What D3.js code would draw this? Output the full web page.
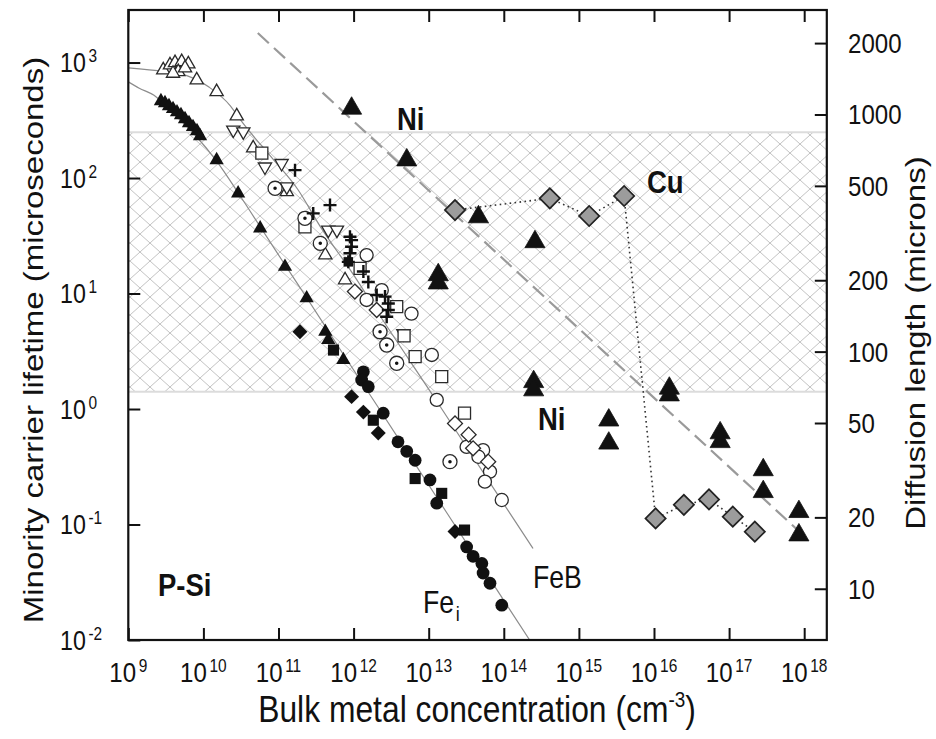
<!DOCTYPE html>
<html><head><meta charset="utf-8">
<script src="https://cdn.jsdelivr.net/npm/d3@7"></script>
<style>
body{margin:0;background:#fff;}
text{font-family:"Liberation Sans",Arial,Helvetica,sans-serif;fill:#111;}
</style></head><body>
<svg id="c" width="936" height="739"></svg>
<script>
// ---------- axes / ticks ----------
const xTickExps = [9,10,11,12,13,14,15,16,17,18];
const yTickExps = [-2,-1,0,1,2,3];
const rightTicks = [10,20,50,100,200,500,1000,2000];
const xDomain = [1e9, 2e18];
const yDomain = [0.01, 2850];
const rightDomain = [6.08, 2758];
const band = [1.41, 249];           // hatched lifetime band (microseconds)

// ---------- Ni (large filled triangles) ----------
const niTri = [[9.4e11,401],[5.1e12,143],[1.34e13,14.5],[1.34e13,12.3],[4.6e13,46],[2.6e14,28],
  [2.5e14,1.72],[2.5e14,1.46],[2.5e15,0.80],[2.5e15,0.505],[1.6e16,1.51],[1.6e16,1.32],
  [7.6e16,0.62],[7.6e16,0.52],[2.85e17,0.297],[2.85e17,0.192],[8.5e17,0.129],[8.5e17,0.081]];
// ---------- Cu (gray diamonds, dotted) ----------
const cuDia = [[2.24e13,52.8],[4.1e14,66.7],[1.37e15,46.9],[4.0e15,69.9],[1.05e16,0.113],
  [2.5e16,0.148],[5.4e16,0.165],[1.12e17,0.117],[2.2e17,0.0867]];
// ---------- FeB (open symbols) ----------
const febTriUp = [[2.92e9,861],[3.59e9,951],[4.19e9,996],[5.14e9,1016],[6.3e9,970],[4.63e9,832],
  [3.94e9,805],[5.69e9,896],[8.15e9,705],[1.5e10,558],[2.78e10,344],[4.6e10,182],[1.29e11,76],
  [4.2e11,21.5],[7.7e11,13.1]];
const febTriDown = [[2.5e10,261],[3.4e10,252],[6.6e10,125],[1.1e11,134],[1.29e11,84],[4.6e11,35.5],
  [6.0e11,35.5],[4.6e12,4.5]];
const febSquare = [[6.0e10,164],[2.25e11,37.8],[1.22e12,16.5],[3.75e12,7.7],[4.7e12,4.3],[6.6e12,2.84],
  [1.49e13,1.91],[3.0e13,0.92]];
const febCircle = [[1.49e12,21.5],[2.37e12,10.7],[1.49e12,8.8],[5.9e12,6.7],[1.1e13,2.94],[1.28e13,1.20],
  [3.2e13,0.47],[5.3e13,0.44],[4.6e13,0.386],[6.55e13,0.287],[5.6e13,0.235],[9.4e13,0.163]];
const febDiamond = [[1.04e12,10.4],[2.03e12,7.2],[2.24e13,0.75],[3.4e13,0.60],[3.9e13,0.457],[6.2e13,0.35]];
const febDotCircle = [[9.0e10,81.5],[2.25e11,44.8],[3.6e11,27.2],[2.25e12,4.67],[2.76e12,3.58],
  [3.75e12,2.49],[1.92e13,0.35]];
const febPlus = [[1.66e11,117],[4.85e11,58.3],[2.9e11,49.4],[8.95e11,31.0],[9.4e11,29.0],[9.4e11,25.4],
  [8.95e11,22.3],[8.5e11,18.8],[1.35e12,15.5],[1.57e12,12.6],[2.03e12,9.7],[2.62e12,9.4],[2.9e12,8.2],
  [2.9e12,7.2],[2.76e12,6.3]];
const febSolid = [[8.5e11,18.8]];
// ---------- Fe_i (filled symbols) ----------
const feiTri = [[2.72e9,464],[3.08e9,446],[3.48e9,420],[3.94e9,396],[4.45e9,372],[5.03e9,351],[5.69e9,324],
  [6.43e9,299],[7.27e9,277],[8.22e9,255],[9.02e9,231],[1.5e10,143],[2.9e10,73.8],[5.7e10,36.7],
  [1.22e11,17.1],[2.37e11,9.1],[4.2e11,4.67],[4.6e11,3.96],[7.3e11,2.66]];
const feiDiamond = [[1.93e11,4.67],[9.4e11,1.28],[1.35e12,0.94],[2.13e12,0.62],[2.24e13,0.087]];
const feiSquare = [[5.4e11,3.24],[1.83e12,0.80],[6.6e12,0.25],[1.49e13,0.186],[3.0e13,0.0895]];
const feiCircle = [[1.35e12,2.10],[1.28e12,1.78],[1.57e12,1.56],[2.48e12,0.92],[3.9e12,0.52],[5.1e12,0.43],
  [6.6e12,0.36],[1.04e13,0.243],[1.28e13,0.153],[3.2e13,0.064],[3.9e13,0.053],[5.1e13,0.046],
  [5.3e13,0.038],[6.55e13,0.031],[9.4e13,0.020]];
// ---------- curves ----------
const febCurve = [[1e9,900],[3e9,835],[6e9,770],[1.2e10,610],[2.3e10,420],[3.1e10,320],[8.5e10,145],
  [1.8e11,80],[3.6e11,38],[1e12,14.5],[2e12,7.2],[1.3e13,1.15],[9.4e13,0.16],[2.45e14,0.062]];
const feiCurve = [[1e9,680],[1.4e9,600],[2.2e9,520],[4e9,360],[8e9,230],[1.5e10,140],[3e10,72],[6e10,36],
  [1.2e11,18],[2.4e11,9.1],[7e11,3.1],[2e12,1.1],[1e13,0.22],[5e13,0.044],[2.3e14,0.0096]];
const niCuFit = [[5.3e10,1800],[1.03e18,0.078]];

// ---------- drawing ----------
const svg = d3.select("#c");
const L=128.3, R=826.8, T=10, B=640, SX=0.86;
const x = d3.scaleLog().domain(xDomain).range([L,R]);
const y = d3.scaleLog().domain(yDomain).range([B,T]);
const yR = d3.scaleLog().domain(rightDomain).range([B,T]);

const defs = svg.append("defs");
const pat = defs.append("pattern").attr("id","hatch").attr("patternUnits","userSpaceOnUse")
  .attr("width",20).attr("height",18);
pat.append("path").attr("d","M0,0L20,18M20,0L0,18").attr("stroke","#c2c2c2").attr("stroke-width",1).attr("fill","none");
defs.append("clipPath").attr("id","plot").append("rect").attr("x",L).attr("y",T).attr("width",R-L).attr("height",B-T);

svg.append("rect").attr("x",L).attr("width",R-L).attr("y",y(band[1])).attr("height",y(band[0])-y(band[1]))
  .attr("fill","url(#hatch)");
band.forEach(v=>svg.append("line").attr("x1",L).attr("x2",R).attr("y1",y(v)).attr("y2",y(v))
  .attr("stroke","#dcdcdc").attr("stroke-width",2));

const line = d3.line().x(d=>x(d[0])).y(d=>y(d[1])).curve(d3.curveMonotoneX);
const gc = svg.append("g").attr("clip-path","url(#plot)");
gc.append("path").attr("d",line(febCurve)).attr("fill","none").attr("stroke","#8c8c8c").attr("stroke-width",1.2);
gc.append("path").attr("d",line(feiCurve)).attr("fill","none").attr("stroke","#8c8c8c").attr("stroke-width",1.2);
gc.append("path").attr("d",d3.line().x(d=>x(d[0])).y(d=>y(d[1]))(niCuFit)).attr("fill","none")
  .attr("stroke","#9a9a9a").attr("stroke-width",2.2).attr("stroke-dasharray","15,7");
gc.append("path").attr("d",d3.line().x(d=>x(d[0])).y(d=>y(d[1]))(cuDia)).attr("fill","none")
  .attr("stroke","#333").attr("stroke-width",1.6).attr("stroke-dasharray","1.6,3.4");

function sym(data,type,size,o){
  svg.append("g").selectAll("path").data(data).join("path")
    .attr("d",d3.symbol().type(type).size(size))
    .attr("transform",d=>`translate(${x(d[0])},${y(d[1])}) rotate(${o.rot||0})`)
    .attr("fill",o.fill).attr("stroke",o.stroke||"none").attr("stroke-width",o.sw||0);
}
const openO = {fill:"#fff",stroke:"#2a2a2a",sw:1.3};
sym(febTriUp,d3.symbolTriangle,76,openO);
sym(febTriDown,d3.symbolTriangle,76,Object.assign({rot:180},openO));
sym(febSquare,d3.symbolSquare,144,openO);
sym(febCircle,d3.symbolCircle,135,openO);
sym(febDiamond,d3.symbolSquare,112,Object.assign({rot:45},openO));
sym(febDotCircle,d3.symbolCircle,155,openO);
sym(febDotCircle,d3.symbolCircle,10,{fill:"#111"});
sym(febSolid,d3.symbolSquare,90,{fill:"#111"});
svg.append("g").selectAll("path").data(febPlus).join("path")
  .attr("d","M-6.5,0H6.5M0,-6.5V6.5")
  .attr("transform",d=>`translate(${x(d[0])},${y(d[1])})`)
  .attr("stroke","#111").attr("stroke-width",2.4).attr("fill","none");

const solid = {fill:"#111"};
sym(feiTri,d3.symbolTriangle,88,solid);
sym(feiDiamond,d3.symbolSquare,112,Object.assign({rot:45},solid));
sym(feiSquare,d3.symbolSquare,124,solid);
sym(feiCircle,d3.symbolCircle,128,solid);

sym(niTri,d3.symbolTriangle,175,{fill:"#111",stroke:"#111",sw:0.8});
sym(cuDia,d3.symbolSquare,205,{rot:45,fill:"#9c9c9c",stroke:"#222",sw:1.7});

// ---------- frame & ticks ----------
const xt = xTickExps.map(e=>Math.pow(10,e)), yt = yTickExps.map(e=>Math.pow(10,e));
function styleAxis(g){ g.select(".domain").remove(); g.selectAll(".tick line").attr("stroke","#111").attr("stroke-width",2); }
svg.append("g").attr("transform",`translate(0,${B})`).call(d3.axisBottom(x).tickValues(xt).tickSize(-12).tickFormat("")).call(styleAxis);
svg.append("g").attr("transform",`translate(0,${T})`).call(d3.axisTop(x).tickValues(xt).tickSize(-12).tickFormat("")).call(styleAxis);
svg.append("g").attr("transform",`translate(${L},0)`).call(d3.axisLeft(y).tickValues(yt).tickSize(-12).tickFormat("")).call(styleAxis);
svg.append("g").attr("transform",`translate(${R},0)`).call(d3.axisRight(yR).tickValues(rightTicks).tickSize(-12).tickFormat("")).call(styleAxis);
svg.append("rect").attr("x",L).attr("y",T).attr("width",R-L).attr("height",B-T)
  .attr("fill","none").attr("stroke","#111").attr("stroke-width",2.2);

// ---------- labels ----------
function txt(px,py,opts){
  const t = svg.append("text").attr("transform",opts.tf || `translate(${px},${py}) scale(${SX},1)`)
    .attr("text-anchor",opts.anchor||"start").attr("font-size",opts.size).attr("font-weight",opts.weight||"normal");
  return t;
}
xTickExps.forEach(e=>{
  const t = txt(x(Math.pow(10,e)),682,{anchor:"middle",size:28});
  t.append("tspan").text("10");
  t.append("tspan").attr("dx",3).attr("dy",-10).attr("font-size",18).text(e);
});
yTickExps.forEach(e=>{
  const t = txt(60,y(Math.pow(10,e))+9.5,{size:27});
  t.append("tspan").text("10");
  t.append("tspan").attr("dx",3).attr("dy",-10).attr("font-size",18).text(e<0?"-"+Math.abs(e):e);
});
rightTicks.forEach(v=>{
  txt(848,yR(v)+10,{size:28}).text(v);
});
const xt1 = txt(477,722,{anchor:"middle",size:37});
xt1.append("tspan").text("Bulk metal concentration (cm");
xt1.append("tspan").attr("dy",-15).attr("font-size",22).text("-3");
xt1.append("tspan").attr("dy",15).text(")");
txt(0,0,{tf:"translate(43,340) rotate(-90) scale(1,0.86)",anchor:"middle",size:33}).text("Minority carrier lifetime (microseconds)");
txt(0,0,{tf:"translate(925,343) rotate(-90) scale(1,0.86)",anchor:"middle",size:33}).text("Diffusion length (microns)");

txt(397,130,{size:32,weight:"bold"}).text("Ni");
txt(538,430,{size:32,weight:"bold"}).text("Ni");
txt(647,193,{size:32,weight:"bold"}).text("Cu");
txt(158,596,{size:32,weight:"bold"}).text("P-Si");
txt(533,588,{size:31}).text("FeB");
const fe = txt(423,613,{size:31});
fe.append("tspan").text("Fe");
fe.append("tspan").attr("dx",2).attr("dy",8).attr("font-size",21).text("i");
</script></body></html>
